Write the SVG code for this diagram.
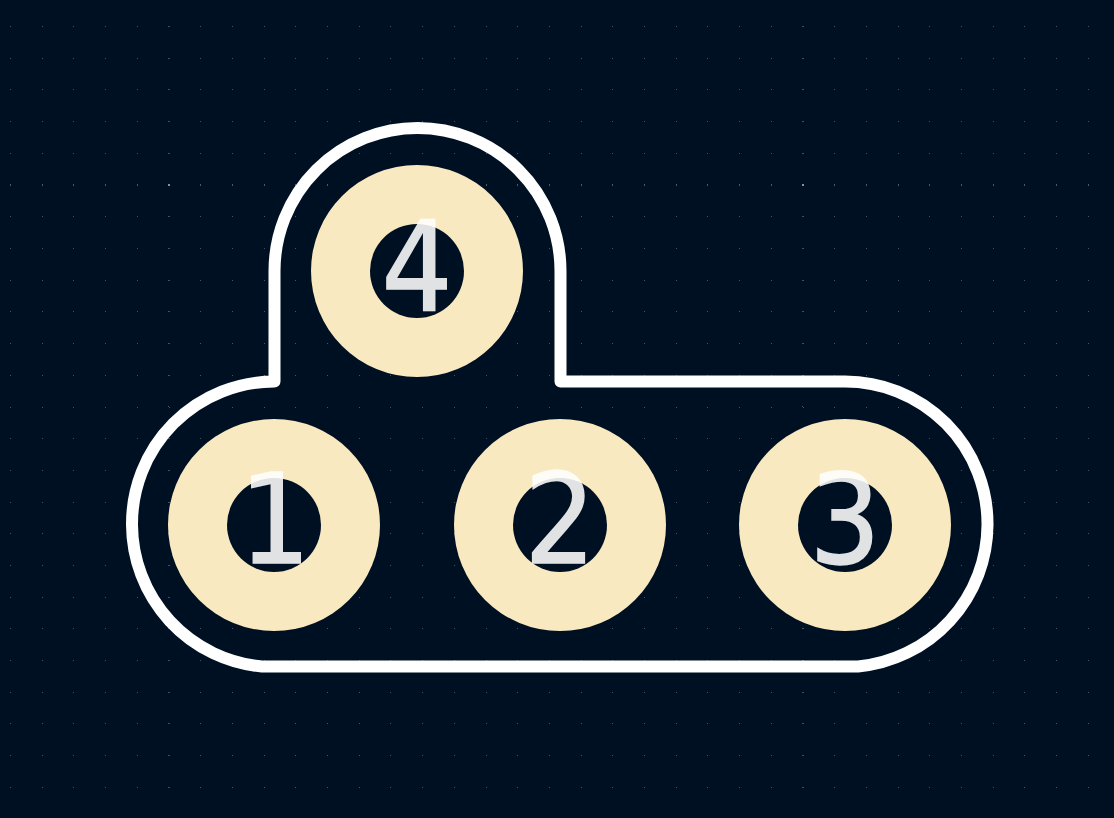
<svg xmlns="http://www.w3.org/2000/svg" width="1114" height="818" viewBox="0 0 1114 818">
  <style>
    .dot { stroke: #46525f; stroke-width: 1; stroke-dasharray: 1 30.7; shape-rendering: crispEdges; fill: none; }
    .major { stroke-width: 2; stroke: #4e5a66; }
    .cross { fill: #8a9299; shape-rendering: crispEdges; }
    .pad { fill: #f9e9c1; }
    .hole { fill: #001023; }
    .num { font-family: "DejaVu Sans Condensed", "DejaVu Sans", sans-serif; font-size: 124px; fill: #ffffff; stroke: #ffffff; stroke-width: 1.5; opacity: 0.88; text-anchor: middle; }
  </style>
  <rect id="background" x="0" y="0" width="1114" height="818" fill="#001023"/>
  <g id="grid">
    <path class="dot" d="M10 26.5H1114M10 58.5H1114M10 89.5H1114M10 121.5H1114M10 153.5H1114M10 216.5H1114M10 248.5H1114M10 280.5H1114M10 311.5H1114M10 343.5H1114M10 375.5H1114M10 407.5H1114M10 438.5H1114M10 470.5H1114M10 502.5H1114M10 533.5H1114M10 565.5H1114M10 597.5H1114M10 628.5H1114M10 660.5H1114M10 692.5H1114M10 723.5H1114M10 755.5H1114M10 787.5H1114"/>
    <path class="dot major" d="M10 185H1114"/>
    <path class="dot" d="M168.5 26V818M802.5 26V818"/>
    <rect class="cross" x="168" y="184" width="2" height="2"/>
    <rect class="cross" x="802" y="184" width="2" height="2"/>
  </g>
  <g id="connectors">
    <path id="outline" d="M274.500 381.500V271A143 143 0 0 1 560.500 271V381.500H845A142.500 142.500 0 0 1 987.500 525A143 143 0 0 1 858 666.500H262A143 143 0 0 1 132 525A142.500 142.500 0 0 1 274.500 381.500Z" fill="none" stroke="#ffffff" stroke-width="12" stroke-linejoin="round"/>
  </g>
  <g id="pad-1">
    <circle class="pad" cx="274" cy="525" r="106"/>
    <circle class="hole" cx="274" cy="525" r="47"/>
    <text class="num" x="275" y="563">1</text>
  </g>
  <g id="pad-2">
    <circle class="pad" cx="560" cy="525" r="106"/>
    <circle class="hole" cx="560" cy="525" r="47"/>
    <text class="num" x="560" y="563">2</text>
  </g>
  <g id="pad-3">
    <circle class="pad" cx="845" cy="525" r="106"/>
    <circle class="hole" cx="845" cy="525" r="47"/>
    <text class="num" x="845" y="563">3</text>
  </g>
  <g id="pad-4">
    <circle class="pad" cx="417" cy="271" r="106"/>
    <circle class="hole" cx="417" cy="271" r="47"/>
    <text class="num" x="417" y="310">4</text>
  </g>
</svg>
